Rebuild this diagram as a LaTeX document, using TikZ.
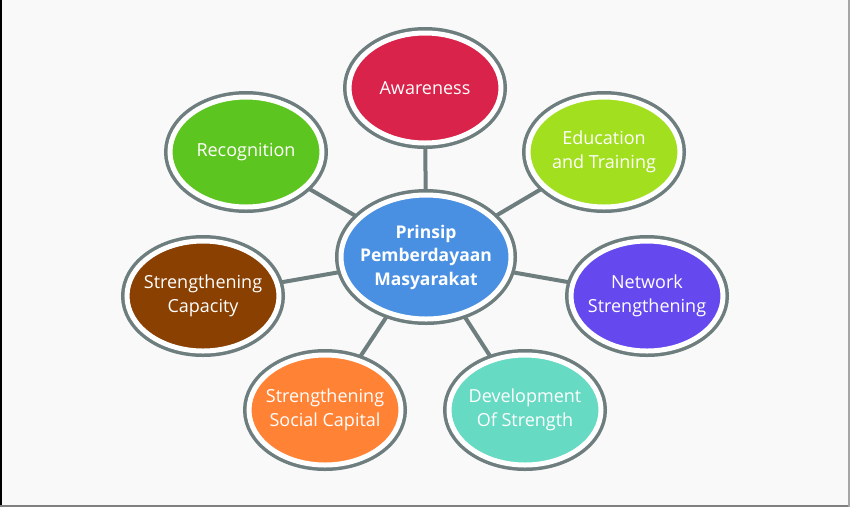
\documentclass[tikz,border=0pt]{standalone}
\usepackage{fontspec}
\setmainfont{Open Sans}
\usetikzlibrary{shapes.geometric,backgrounds}

\definecolor{ringgray}{HTML}{6E7E7E}
\definecolor{pagebg}{HTML}{F9F9F9}
\definecolor{hubblue}{HTML}{4A90E2}
\definecolor{awarered}{HTML}{D9234A}
\definecolor{edugreen}{HTML}{A2DF1E}
\definecolor{recgreen}{HTML}{5DC520}
\definecolor{netpurple}{HTML}{6549EF}
\definecolor{devteal}{HTML}{66DAC3}
\definecolor{socorange}{HTML}{FF8235}
\definecolor{capbrown}{HTML}{8A4000}

\begin{document}
\begin{tikzpicture}[x=1pt, y=-1pt,
    bubble/.style={ellipse, fill=#1, draw=white, line width=5pt,
        preaction={draw=ringgray, line width=12pt},
        minimum width=152pt, minimum height=110pt, inner sep=-14pt,
        text=white, align=center, font=\fontsize{18}{24}\selectfont},
    hub/.style={bubble=hubblue, minimum width=170pt, minimum height=124pt,
        font=\fontsize{17.5}{23.5}\selectfont\bfseries},
    spoke/.style={draw=ringgray, line width=4pt}]
    \useasboundingbox (0,0) rectangle (850,507);

    % centre
    \node[hub] (hub) at (426,257) {Prinsip\\Pemberdayaan\\Masyarakat};

    % satellites
    \node[bubble=awarered] (aware) at (425,88) {Awareness};
    \node[bubble=recgreen] (recog) at (246,152) {Recognition};
    \node[bubble=edugreen] (edu) at (604,152) {Education\\and Training};
    \node[bubble=capbrown] (capac) at (203,296) {Strengthening\\Capacity};
    \node[bubble=netpurple] (net) at (647,296) {Network\\Strengthening};
    \node[bubble=socorange] (social) at (325,410) {Strengthening\\Social Capital};
    \node[bubble=devteal] (devel) at (525,410) {Development\\Of Strength};

    \begin{pgfonlayer}{background}
        \fill[pagebg] (0,0) rectangle (850,507);
        \draw[black, line width=2pt] (1,0) -- (1,507);
        \draw[gray, line width=2pt] (0,506) -- (850,506);
        \draw[gray!70, line width=1.5pt] (849,0) -- (849,507);
        % spokes
        \foreach \s in {aware, recog, edu, capac, net, social, devel} {
            \draw[spoke] (hub) -- (\s);
        }
    \end{pgfonlayer}
\end{tikzpicture}
\end{document}
